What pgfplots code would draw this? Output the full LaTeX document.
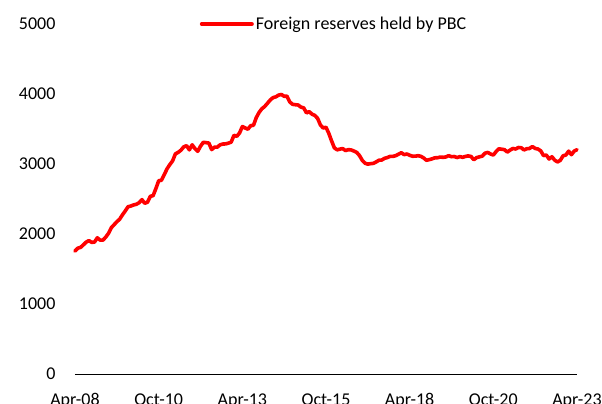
\documentclass[border=0pt]{standalone}
\usepackage{pgfplots}
\pgfplotsset{compat=1.18}
\usepackage{fontspec}
\setmainfont{Carlito}
\definecolor{resred}{RGB}{255,0,0}
\begin{document}
\begin{tikzpicture}
\begin{axis}[
    at={(0,0)}, anchor=south west,
    scale only axis,
    width=502pt, height=350pt,
    xmin=0, xmax=180,
    ymin=0, ymax=5000,
    axis lines*=left,
    y axis line style={draw=none},
    x axis line style={black, line width=0.9pt},
    tick style={draw=none},
    xtick={0,30,60,90,120,150,180},
    xticklabels={Apr-08,Oct-10,Apr-13,Oct-15,Apr-18,Oct-20,Apr-23},
    ytick={0,1000,2000,3000,4000,5000},
    /pgf/number format/assume math mode=true,
    /pgf/number format/1000 sep={},
    tick label style={font=\fontsize{18}{21}\selectfont},
    xticklabel style={yshift=-16pt},
    yticklabel style={xshift=-16pt},
    legend style={at={(0.516,1)}, anchor=center, draw=none, fill=none,
        font=\fontsize{18}{21}\selectfont, legend cell align=left},
    legend image code/.code={\draw[#1, line width=4pt, line cap=round] (0pt,0pt) -- (50pt,0pt);},
    clip=false,
]
\addplot[resred, line width=3.6pt, line join=round, line cap=round, mark=none] coordinates {
(0,1757) (1,1797) (2,1809) (3,1845) (4,1884) (5,1906) (6,1880) (7,1885) (8,1946) (9,1913)
(10,1912) (11,1954) (12,2009) (13,2089) (14,2132) (15,2175) (16,2211) (17,2273) (18,2328) (19,2389)
(20,2399) (21,2415) (22,2425) (23,2447) (24,2491) (25,2439) (26,2454) (27,2538) (28,2548) (29,2648)
(30,2760) (31,2768) (32,2847) (33,2931) (34,2991) (35,3045) (36,3145) (37,3166) (38,3198) (39,3245)
(40,3262) (41,3202) (42,3274) (43,3221) (44,3181) (45,3254) (46,3310) (47,3305) (48,3299) (49,3206)
(50,3240) (51,3240) (52,3273) (53,3285) (54,3287) (55,3298) (56,3312) (57,3410) (58,3395) (59,3443)
(60,3535) (61,3515) (62,3497) (63,3548) (64,3553) (65,3663) (66,3736) (67,3789) (68,3821) (69,3867)
(70,3914) (71,3948) (72,3959) (73,3984) (74,3993) (75,3967) (76,3969) (77,3887) (78,3853) (79,3847)
(80,3843) (81,3813) (82,3802) (83,3730) (84,3748) (85,3711) (86,3694) (87,3651) (88,3557) (89,3514)
(90,3525) (91,3438) (92,3330) (93,3231) (94,3202) (95,3213) (96,3220) (97,3192) (98,3205) (99,3201)
(100,3185) (101,3166) (102,3121) (103,3052) (104,3011) (105,2998) (106,3005) (107,3009) (108,3030) (109,3054)
(110,3057) (111,3081) (112,3092) (113,3109) (114,3109) (115,3119) (116,3140) (117,3161) (118,3134) (119,3143)
(120,3125) (121,3111) (122,3112) (123,3118) (124,3110) (125,3087) (126,3053) (127,3062) (128,3073) (129,3088)
(130,3090) (131,3099) (132,3095) (133,3101) (134,3119) (135,3104) (136,3107) (137,3092) (138,3105) (139,3096)
(140,3108) (141,3116) (142,3107) (143,3061) (144,3091) (145,3102) (146,3112) (147,3154) (148,3165) (149,3143)
(150,3128) (151,3178) (152,3217) (153,3211) (154,3205) (155,3170) (156,3198) (157,3222) (158,3214) (159,3236)
(160,3232) (161,3201) (162,3218) (163,3222) (164,3250) (165,3222) (166,3214) (167,3188) (168,3120) (169,3128)
(170,3071) (171,3104) (172,3055) (173,3029) (174,3052) (175,3117) (176,3128) (177,3184) (178,3133) (179,3184)
(180,3205)
};
\addlegendentry{Foreign reserves held by PBC}
\end{axis}
\pgfresetboundingbox
\path[use as bounding box] (-75pt,-30pt) rectangle (527pt,374pt);
\end{tikzpicture}
\end{document}
